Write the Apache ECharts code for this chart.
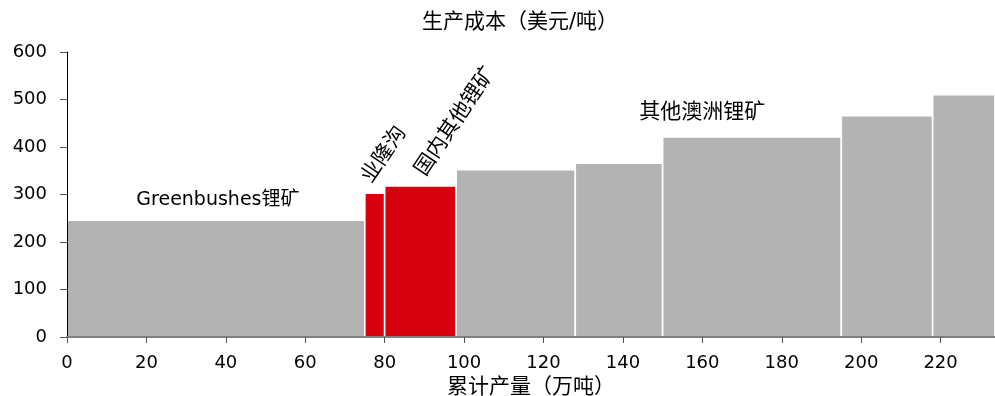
<!DOCTYPE html>
<html>
<head>
<meta charset="utf-8">
<script src="https://cdn.jsdelivr.net/npm/echarts@6/dist/echarts.min.js"></script>
<style>
  html, body { margin: 0; padding: 0; background: #fff; }
  #chart { width: 995px; height: 396px; }
</style>
</head>
<body>
<div id="chart"></div>
<script>
// Lithium supply cost curve: bar width = output (万吨), bar height = cost (美元/吨)
const mines    = ['Greenbushes', '业隆沟', '国内其他锂矿', '澳洲A', '澳洲B', '澳洲C', '澳洲D', '澳洲E'];
const outputs  = [75, 5, 18, 30, 22, 45, 23, 15.7];
const costs    = [246, 303, 318, 352, 366, 421, 466, 510];
const domestic = [false, true, true, false, false, false, false, false];
const yTicks   = [0, 100, 200, 300, 400, 500, 600];
const xTicks   = [0, 20, 40, 60, 80, 100, 120, 140, 160, 180, 200, 220];

const FONT = "'DejaVu Sans', 'Noto Sans CJK SC', sans-serif";
const GRAY = '#b3b3b3';
const RED = '#d7000f';

// cumulative start / end of each mine on the x axis
const starts = [];
const ends = [];
let acc = 0;
outputs.forEach(w => { starts.push(acc); acc += w; ends.push(acc); });
const total = acc;

const barData = mines.map((m, i) => [starts[i], ends[i], costs[i], i]);

// text placed above individual bars
const barLabels = [
  { index: 0, text: 'Greenbushes锂矿', rotate: 0, dx: 2, dy: -20, size: 19, align: 'center' },
  { index: 1, text: '业隆沟', rotate: 56, dx: -8, dy: -12, size: 21, align: 'left' },
  { index: 2, text: '国内其他锂矿', rotate: 56, dx: 0, dy: -12, size: 21, align: 'left' }
];
// group label for the remaining Australian mines
const groupLabel = { text: '其他澳洲锂矿', x: 160, y: 472 };

const chart = echarts.init(document.getElementById('chart'), null, { renderer: 'canvas' });

const option = {
  animation: false,
  title: {
    text: '生产成本（美元/吨）',
    left: 515,
    top: 7,
    textAlign: 'center',
    textStyle: { fontFamily: FONT, fontSize: 21, fontWeight: 'normal', color: '#000' }
  },
  grid: { left: 67, right: 0, top: 52, bottom: 59, containLabel: false, outerBoundsMode: 'none' },
  xAxis: {
    type: 'value',
    min: 0,
    max: total,
    interval: 20,
    name: '累计产量（万吨）',
    nameLocation: 'middle',
    nameGap: 35,
    nameTextStyle: { fontFamily: FONT, fontSize: 21, color: '#000' },
    axisLine: { show: true, lineStyle: { color: '#808080', width: 2 } },
    axisTick: { show: true, length: 6, lineStyle: { color: '#555' } },
    axisLabel: {
      fontFamily: FONT, fontSize: 18, color: '#000', margin: 17,
      formatter: v => (xTicks.indexOf(v) >= 0 ? String(v) : '')
    },
    splitLine: { show: false },
    z: 10
  },
  yAxis: {
    type: 'value',
    min: yTicks[0],
    max: yTicks[yTicks.length - 1],
    interval: 100,
    axisLine: { show: true, lineStyle: { color: '#000', width: 1 } },
    axisTick: { show: true, length: 7, lineStyle: { color: '#555' } },
    axisLabel: { fontFamily: FONT, fontSize: 18, color: '#000', margin: 20 },
    splitLine: { show: false },
    z: 10
  },
  series: [{
    type: 'custom',
    data: barData,
    encode: { x: [0, 1], y: 2 },
    renderItem: function (params, api) {
      const i = api.value(3);
      const p0 = api.coord([api.value(0), api.value(2)]);
      const p1 = api.coord([api.value(1), 0]);
      const children = [{
        type: 'rect',
        shape: { x: p0[0], y: p0[1], width: p1[0] - p0[0], height: p1[1] - p0[1] },
        style: { fill: domestic[i] ? RED : GRAY, stroke: '#fff', lineWidth: 1.6 }
      }];
      barLabels.filter(l => l.index === i).forEach(l => {
        const cx = (p0[0] + p1[0]) / 2 + l.dx;
        const cy = p0[1] + l.dy;
        children.push({
          type: 'text',
          x: cx,
          y: cy,
          rotation: l.rotate * Math.PI / 180,
          style: {
            text: l.text,
            fontFamily: FONT,
            fontSize: l.size,
            fill: '#000',
            align: l.align,
            verticalAlign: 'middle'
          }
        });
      });
      return { type: 'group', children: children };
    }
  }, {
    type: 'custom',
    data: [[groupLabel.x, groupLabel.y]],
    encode: { x: 0, y: 1 },
    renderItem: function (params, api) {
      const p = api.coord([api.value(0), api.value(1)]);
      return {
        type: 'text',
        x: p[0],
        y: p[1],
        style: {
          text: groupLabel.text,
          fontFamily: FONT,
          fontSize: 21,
          fill: '#000',
          align: 'center',
          verticalAlign: 'middle'
        }
      };
    }
  }]
};

chart.setOption(option);
</script>
</body>
</html>
